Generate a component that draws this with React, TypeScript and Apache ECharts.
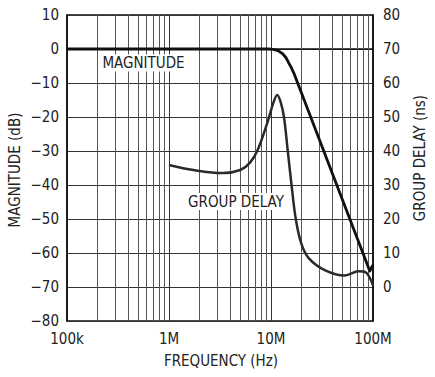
import React, { useEffect, useRef } from "react";
import * as echarts from "echarts";

const FONT = "'DejaVu Sans Condensed', 'Liberation Sans', sans-serif";

const xTickLabels: Record<string, string> = { "100000": "100k", "1000000": "1M", "10000000": "10M", "100000000": "100M" };

const magnitudeFreq = [1e5, 1e6, 5e6, 9.5e6, 10.5e6, 11.3e6, 12.1e6, 13e6, 14e6, 15e6, 16e6, 16.7e6, 93e6, 100e6];
const magnitudeDb = [0, 0, 0, 0, -0.1, -0.35, -0.75, -1.4, -2.5, -4.2, -5.8, -7, -65.3, -63.5];

const delayFreq = [1e6, 1.74e6, 3.4e6, 5e6, 6.2e6, 7.4e6, 9.2e6, 10.5e6, 11.5e6, 12.4e6, 13.4e6, 14.6e6, 15.9e6, 17.5e6, 19.8e6, 23.4e6, 34e6, 53e6, 72e6, 84e6, 100e6];
const delayNs = [35.9, 34.4, 33.5, 34.4, 36.5, 40.3, 48.3, 54, 56.5, 54.5, 50, 40, 30, 20, 12.8, 8.5, 4.9, 3.4, 4.6, 4.4, 0.5];

const minorFreqs: number[] = [];
[1e5, 1e6, 1e7].forEach((d) => {
  for (let k = 2; k <= 9; k++) minorFreqs.push(d * k);
});

export default function App() {
  const ref = useRef<HTMLDivElement>(null);
  useEffect(() => {
    if (!ref.current) return;
    const chart = echarts.init(ref.current, null, { renderer: "svg" });
    const minus = (v: number) => (v < 0 ? "\u2212" + Math.abs(v) : String(v));
    chart.setOption({
      animation: false,
      backgroundColor: "#fff",
      textStyle: { fontFamily: FONT },
      grid: { left: 67, right: 62, top: 15, bottom: 56, show: true, borderColor: "#111", borderWidth: 1.5 },
      xAxis: {
        type: "log",
        logBase: 10,
        min: 1e5,
        max: 1e8,
        axisLine: { show: true, lineStyle: { color: "#111", width: 1.5 } },
        axisTick: { show: false },
        axisLabel: {
          color: "#222",
          fontSize: 15,
          fontFamily: FONT,
          margin: 10,
          formatter: (v: number) => xTickLabels[String(Math.round(v))] ?? "",
        },
        splitLine: { show: true, lineStyle: { color: "#333", width: 1 } },
      },
      yAxis: [
        {
          type: "value",
          min: -80,
          max: 10,
          interval: 10,
          axisLine: { show: true, lineStyle: { color: "#111", width: 1.5 } },
          axisTick: { show: false },
          axisLabel: { color: "#222", fontSize: 15, fontFamily: FONT, margin: 8, formatter: minus },
          splitLine: { show: true, lineStyle: { color: "#333", width: 1 } },
        },
        {
          type: "value",
          min: -10,
          max: 80,
          interval: 10,
          position: "right",
          axisLine: { show: true, lineStyle: { color: "#111", width: 1.5 } },
          axisTick: { show: false },
          axisLabel: {
            color: "#222",
            fontSize: 15,
            fontFamily: FONT,
            margin: 10,
            formatter: (v: number) => (v < 0 ? "" : String(v)),
          },
          splitLine: { show: false },
        },
      ],
      series: [
        {
          type: "line",
          data: [],
          silent: true,
          markLine: {
            silent: true,
            symbol: "none",
            label: { show: false },
            lineStyle: { type: "solid", color: "#555", width: 1 },
            data: minorFreqs.map((f) => ({ xAxis: f })),
          },
        },
        {
          name: "MAGNITUDE",
          type: "line",
          yAxisIndex: 0,
          data: magnitudeFreq.map((f, i) => [f, magnitudeDb[i]]),
          smooth: false,
          showSymbol: false,
          lineStyle: { color: "#111", width: 2.8, join: "round" },
          z: 5,
        },
        {
          name: "GROUP DELAY",
          type: "line",
          yAxisIndex: 1,
          data: delayFreq.map((f, i) => [f, delayNs[i]]),
          smooth: 0.35,
          showSymbol: false,
          lineStyle: { color: "#2a2a2a", width: 2.5 },
          z: 5,
        },
      ],
      graphic: [
        {
          type: "text",
          x: 143.5,
          y: 63,
          z: 10,
          style: {
            text: "MAGNITUDE",
            fontFamily: FONT,
            fontSize: 15,
            fill: "#222",
            align: "center",
            verticalAlign: "middle",
            backgroundColor: "#fff",
            padding: [1, 2],
          },
        },
        {
          type: "text",
          x: 236,
          y: 201.5,
          z: 10,
          style: {
            text: "GROUP DELAY",
            fontFamily: FONT,
            fontSize: 15,
            fill: "#222",
            align: "center",
            verticalAlign: "middle",
            backgroundColor: "#fff",
            padding: [1, 2],
          },
        },
        {
          type: "text",
          x: 15,
          y: 170,
          rotation: Math.PI / 2,
          style: { text: "MAGNITUDE (dB)", fontFamily: FONT, fontSize: 15, fill: "#222", align: "center", verticalAlign: "middle" },
        },
        {
          type: "text",
          x: 420,
          y: 158,
          rotation: Math.PI / 2,
          style: { text: "GROUP DELAY (ns)", fontFamily: FONT, fontSize: 15, fill: "#222", align: "center", verticalAlign: "middle" },
        },
        {
          type: "text",
          x: 221,
          y: 361,
          style: { text: "FREQUENCY (Hz)", fontFamily: FONT, fontSize: 15, fill: "#222", align: "center", verticalAlign: "middle" },
        },
      ],
    });
    return () => chart.dispose();
  }, []);
  return <div ref={ref} style={{ position: "fixed", left: 0, top: 0, width: 435, height: 377 }} />;
}
